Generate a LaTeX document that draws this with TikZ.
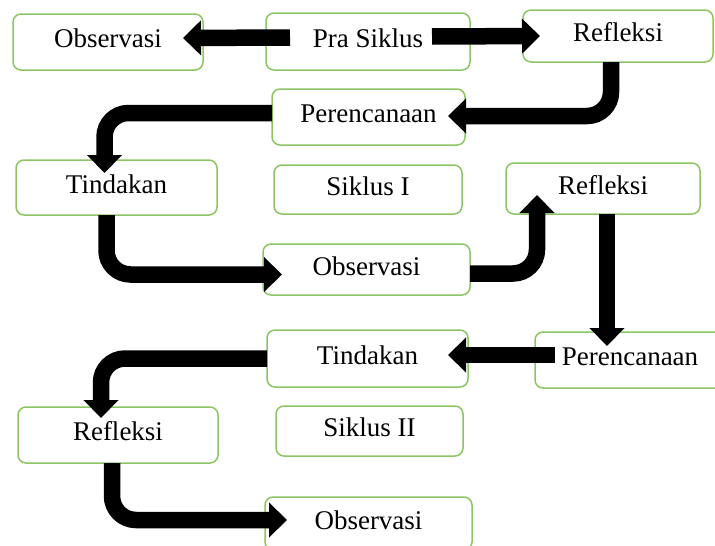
\documentclass[tikz,border=0pt]{standalone}
\usepackage{fontspec}
\setmainfont{Liberation Serif}
\usepackage{xcolor}
\usetikzlibrary{arrows.meta}

\definecolor{boxgreen}{RGB}{140,198,100}

\begin{document}
\begin{tikzpicture}[
    x=1pt, y=-1pt,
    every node/.style={font=\fontsize{27}{30}\selectfont},
    box/.style={draw=boxgreen, line width=1.5pt, rounded corners=8pt, fill=white, rectangle, outer sep=0pt,
        text height=18pt, text depth=7pt, align=center},
    arr/.style={-{Triangle[length=18pt,width=34pt]}, line width=16.5pt, rounded corners=24pt}
]
\clip (0,0) rectangle (715,546);

% Pra siklus
\node[box, minimum width=190pt, minimum height=56pt] (obs0) at (108, 42) {Observasi};
\node[box, minimum width=204pt, minimum height=57pt] (pra)  at (368, 41.5) {Pra Siklus};
\node[box, minimum width=190pt, minimum height=52pt] (ref0) at (618, 36) {Refleksi};

% Siklus I
\node[box, minimum width=193pt, minimum height=56pt] (per1) at (368.5, 117) {Perencanaan};
\node[box, minimum width=201pt, minimum height=55pt] (tin1) at (116.5, 187.5) {Tindakan};
\node[box, minimum width=188pt, minimum height=49pt] (sik1) at (368, 189.5) {Siklus I};
\node[box, minimum width=194pt, minimum height=51pt] (ref1) at (603, 188.5) {Refleksi};
\node[box, minimum width=207pt, minimum height=51pt] (obs1) at (366.5, 269.5) {Observasi};

% Siklus II
\node[box, minimum width=190pt, minimum height=56pt] (per2) at (630, 360) {Perencanaan};
\node[box, minimum width=201pt, minimum height=57pt] (tin2) at (367.5, 358.5) {Tindakan};
\node[box, minimum width=200pt, minimum height=56pt] (ref2) at (118, 435) {Refleksi};
\node[box, minimum width=187pt, minimum height=50pt] (sik2) at (369.5, 431) {Siklus II};
\node[box, minimum width=207pt, minimum height=53pt] (obs2) at (368.5, 523.5) {Observasi};

% Arrows
\draw[arr] ([xshift=24pt,yshift=4pt]pra.west) -- ([xshift=-20pt,yshift=4pt]obs0.east);
\draw[arr] ([xshift=-38pt,yshift=5pt]pra.east) -- ([xshift=17pt]ref0.west);
\draw[arr] ([xshift=-7pt]ref0.south) |- ([xshift=-17pt,yshift=1pt]per1.east);
\draw[arr] ([yshift=4pt]per1.west) -| ([xshift=-12pt,yshift=-13pt]tin1.north);
\draw[arr] ([xshift=-10pt]tin1.south) |- ([xshift=19pt,yshift=-5pt]obs1.west);
\draw[arr] ([yshift=-4pt]obs1.east) -| ([xshift=-66pt,yshift=-32pt]ref1.north);
\draw[arr] ([xshift=4pt]ref1.south) -- ([xshift=-23pt,yshift=-14pt]per2.north);
\draw[arr] ([xshift=20pt,yshift=5pt]per2.west) -- ([xshift=-20pt,yshift=3.5pt]tin2.east);
\draw[arr] (tin2.west) -| ([xshift=-17pt,yshift=-11pt]ref2.north);
\draw[arr] ([xshift=-6pt]ref2.south) |- ([xshift=22pt,yshift=3.5pt]obs2.west);

\end{tikzpicture}
\end{document}
